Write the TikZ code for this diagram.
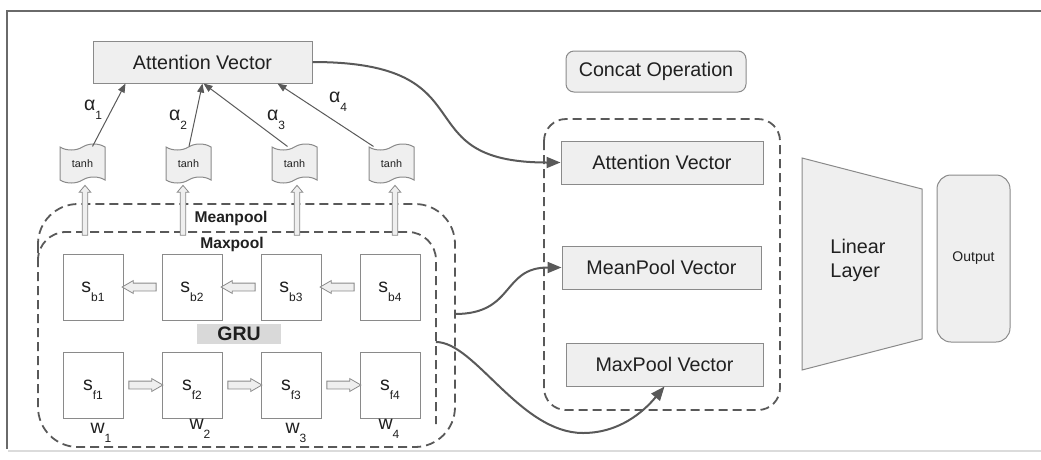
\documentclass[tikz,border=0pt]{standalone}
\usepackage{fontspec}
\setmainfont{Liberation Sans}
\usetikzlibrary{shapes.symbols, shapes.arrows, arrows.meta, calc, positioning}

\definecolor{boxfill}{HTML}{EFEFEF}
\definecolor{boxline}{HTML}{8A8A8A}
\definecolor{dark}{HTML}{595959}
\definecolor{grufill}{HTML}{D9D9D9}
\definecolor{ink}{HTML}{202020}

% letter with a lowered index
\newcommand{\idx}[2]{#1\raisebox{-0.5em}[0pt][0pt]{\fontsize{12}{12}\selectfont #2}}

\tikzset{
  vec/.style={draw=boxline, fill=boxfill, line width=1pt, minimum height=42pt, font=\fontsize{19.7}{23}\selectfont, text=ink},
  cell/.style={draw=boxline, fill=white, line width=1pt, minimum width=60pt, minimum height=66pt, font=\fontsize{19.5}{22}\selectfont, text=ink},
  act/.style={tape, draw=boxline, fill=boxfill, line width=1pt, minimum width=45pt, minimum height=39pt, tape bend height=6pt, font=\fontsize{10.8}{12}\selectfont, text=ink},
  flow/.style={single arrow, draw=boxline, fill=boxfill, line width=0.8pt, minimum height=34pt, minimum width=12pt, inner xsep=0pt, inner ysep=3.5pt, single arrow head extend=2.5pt, single arrow tip angle=60},
  lift/.style={flow, minimum height=50pt, minimum width=10pt, inner ysep=2.4pt, single arrow head extend=3pt, single arrow tip angle=80, rotate=90},
  pool/.style={draw=dark, line width=1.8pt, dash pattern=on 9pt off 5pt},
  weight/.style={draw=dark, line width=1pt, -{Triangle[length=9pt,width=7pt]}},
  link/.style={draw=dark, line width=2pt, -{Triangle[length=14pt,width=11pt]}},
  lbl/.style={font=\fontsize{19.5}{22}\selectfont, text=ink, inner sep=0pt},
  grp/.style={font=\bfseries\fontsize{15.6}{18}\selectfont, text=ink, inner sep=0pt},
}

\begin{document}
\begin{tikzpicture}[x=1pt, y=-1pt, node distance=38pt]
  \useasboundingbox (0,0) rectangle (1041,459);

  % frame
  \draw[dark!90, line width=1.5pt] (7,449) -- (7,11) -- (1041,11);
  \draw[black!14, line width=2pt] (8,450.5) -- (1041,450.5);

  % pooling groups
  \draw[pool, rounded corners=40pt] (38,204) rectangle (455,447);
  \draw[pool, rounded corners=28pt] (38,262) -- (38,232) -- (436,232) -- (436,424);
  \node[grp] (meanlbl) at (231,218) {Meanpool};
  \node[grp] (maxlbl) at (232,244) {Maxpool};
  \coordinate (meanR) at (455,314);
  \coordinate (maxR) at (436,342);

  % GRU cells
  \node[cell] (sb1) at (93,287) {\idx{s}{b1}};
  \node[cell, right=of sb1] (sb2) {\idx{s}{b2}};
  \node[cell, right=of sb2] (sb3) {\idx{s}{b3}};
  \node[cell, right=of sb3] (sb4) {\idx{s}{b4}};
  \node[cell, below=31pt of sb1] (sf1) {\idx{s}{f1}};
  \node[cell, below=31pt of sb2] (sf2) {\idx{s}{f2}};
  \node[cell, below=31pt of sb3] (sf3) {\idx{s}{f3}};
  \node[cell, below=31pt of sb4] (sf4) {\idx{s}{f4}};
  \node[fill=grufill, minimum width=84pt, minimum height=20pt, inner sep=0pt,
        font=\bfseries\fontsize{19.5}{22}\selectfont, text=ink] (gru) at (239,334) {GRU};

  \node[flow, rotate=180] (b21) at ($(sb2.west)!.5!(sb1.east)$) {};
  \node[flow, rotate=180] (b32) at ($(sb3.west)!.5!(sb2.east)$) {};
  \node[flow, rotate=180] (b43) at ($(sb4.west)!.5!(sb3.east)$) {};
  \node[flow] (f12) at ($(sf1.east)!.5!(sf2.west)$) {};
  \node[flow] (f23) at ($(sf2.east)!.5!(sf3.west)$) {};
  \node[flow] (f34) at ($(sf3.east)!.5!(sf4.west)$) {};

  \node[lbl] (w1) at (101,428) {\idx{w}{1}};
  \node[lbl] (w2) at (200,424) {\idx{w}{2}};
  \node[lbl] (w3) at (296,428) {\idx{w}{3}};
  \node[lbl] (w4) at (389,424) {\idx{w}{4}};

  % attention
  \node[act] (t1) at (82.5,163.5) {tanh};
  \node[act] (t2) at (188.5,163.5) {tanh};
  \node[act] (t3) at (294.5,163.5) {tanh};
  \node[act] (t4) at (391.5,163.5) {tanh};
  \node[lift] (u1) at (85,212) {};
  \node[lift] (u2) at (183,212) {};
  \node[lift] (u3) at (297,212) {};
  \node[lift] (u4) at (395,212) {};

  \node[vec, minimum width=219pt] (att) at (202.5,62) {Attention Vector};
  \draw[weight] ([xshift=10pt]t1.north) -- ([xshift=-77pt]att.south);
  \draw[weight] ([xshift=0.5pt]t2.north) -- (att.south);
  \draw[weight] ([xshift=-7pt]t3.north) -- ([xshift=1pt]att.south);
  \draw[weight] ([xshift=-18pt]t4.north) -- ([xshift=75pt]att.south);
  \node[lbl] (a1) at (93,105) {\idx{α}{1}};
  \node[lbl] (a2) at (178,115) {\idx{α}{2}};
  \node[lbl] (a3) at (276,115) {\idx{α}{3}};
  \node[lbl] (a4) at (338,97) {\idx{α}{4}};

  % concat
  \node[vec, rounded corners=8pt, minimum width=180pt, minimum height=41pt] (cat) at (656,71.5) {Concat Operation};
  \draw[pool, rounded corners=22pt] (544,119) rectangle (780,410);
  \node[vec, minimum width=202pt, minimum height=43pt] (attR) at (662,162.5) {Attention Vector};
  \node[vec, minimum width=199pt, minimum height=43pt] (meanV) at (661.5,267.5) {MeanPool Vector};
  \node[vec, minimum width=197pt, minimum height=43pt] (maxV) at (664.5,364.5) {MaxPool Vector};

  % head
  \draw[draw=boxline, fill=boxfill, line width=1pt] (802,158) -- (922,189) -- (922,339) -- (802,370) -- cycle;
  \node[lbl, align=left, font=\fontsize{19.8}{24}\selectfont] (lin) at (858,260) {Linear\\Layer};
  \node[vec, rounded corners=14pt, minimum width=73pt, minimum height=167pt,
        font=\fontsize{14}{16}\selectfont] (out) at (973.5,258.5) {Output};

  \draw[link] (att.east) .. controls +(180,0) and +(-160,0) .. (attR.west);
  \draw[link] (meanR) .. controls +(60,0) and +(-60,0) .. (meanV.west);
  \draw[link] (maxR) .. controls +(39,0) and (520,433) .. (583,433)
              .. controls +(42,0) and +(-15,18) .. (maxV.south);
\end{tikzpicture}
\end{document}
